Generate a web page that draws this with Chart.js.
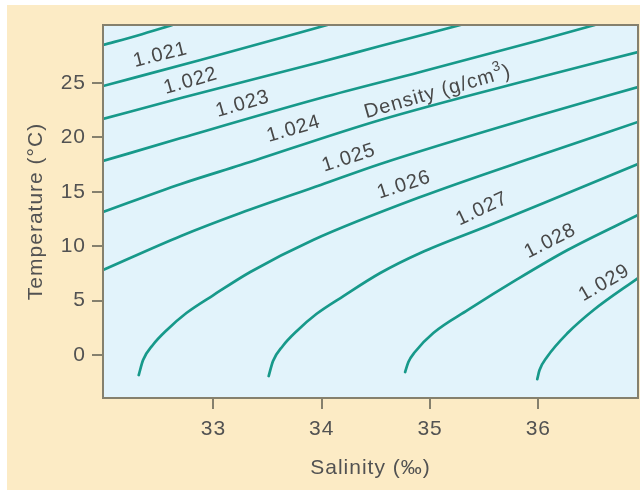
<!DOCTYPE html>
<html>
<head>
<meta charset="utf-8">
<script src="https://cdn.jsdelivr.net/npm/chart.js@4.4.1/dist/chart.umd.min.js"></script>
<style>
  html, body { margin: 0; padding: 0; background: #ffffff; }
  #wrap { position: absolute; left: 7px; top: 5px; width: 633px; height: 485px; background: #fcebc5; }
</style>
</head>
<body>
<div id="wrap"><canvas id="chart" width="633" height="485"></canvas></div>
<script>
// Isopycnals: salinity (‰) vs temperature (°C)
const densityLevels = ['1.020', '1.021', '1.022', '1.023', '1.024', '1.025', '1.026', '1.027', '1.028', '1.029'];

const sal1020 = [31.98, 32.30, 32.62];
const temp1020 = [28.49, 29.37, 30.33];
const sal1021 = [31.98, 32.88, 34.05];
const temp1021 = [24.72, 27.11, 30.33];
const sal1022 = [31.98, 32.70, 33.99, 34.54, 35.28];
const temp1022 = [21.69, 23.62, 26.93, 28.40, 30.33];
const sal1023 = [31.98, 32.70, 33.99, 34.91, 36.02, 36.52];
const temp1023 = [17.83, 19.94, 23.62, 26.01, 28.95, 30.33];
const sal1024 = [31.98, 32.70, 33.25, 34.54, 36.02, 36.92];
const temp1024 = [13.14, 15.72, 17.46, 21.60, 25.55, 27.85];
const sal1025 = [31.98, 32.70, 33.25, 33.99, 34.54, 36.02, 36.92];
const temp1025 = [7.81, 10.94, 13.05, 15.63, 17.56, 22.06, 24.63];
const sal1026 = [32.31, 32.35, 32.44, 32.57, 32.75, 33.00, 33.34, 33.92, 34.91, 36.02, 36.92];
const temp1026 = [-1.84, -0.46, 0.92, 2.30, 3.86, 5.51, 7.63, 10.57, 14.52, 18.38, 21.42];
const sal1027 = [33.51, 33.55, 33.64, 33.77, 33.95, 34.20, 34.54, 34.91, 35.53, 36.05, 36.92];
const temp1027 = [-1.93, -0.55, 0.83, 2.21, 3.77, 5.42, 7.54, 9.38, 11.86, 13.97, 17.56];
const sal1028 = [34.77, 34.80, 34.86, 35.03, 35.35, 35.81, 36.27, 36.92];
const temp1028 = [-1.56, -0.64, 0.28, 2.02, 4.14, 6.99, 9.65, 12.87];
const sal1029 = [35.99, 36.01, 36.08, 36.27, 36.51, 36.92];
const temp1029 = [-2.21, -1.40, -0.18, 2.02, 4.14, 7.08];

const salinityTicks = [33, 34, 35, 36];
const tempTicks = [0, 5, 10, 15, 20, 25];

// in-plot labels (text, anchor in data units, angle in degrees)
const labelText = ['1.021', '1.022', '1.023', '1.024', '1.025', '1.026', '1.027', '1.028', '1.029'];
const labelSal = [32.51, 32.79, 33.27, 33.74, 34.25, 34.76, 35.48, 36.11, 36.61];
const labelTemp = [27.57, 25.18, 23.07, 20.77, 18.11, 15.63, 13.42, 10.48, 6.62];
const labelAngle = [-14, -16, -16, -16, -18, -18, -25, -27, -30];
const unitLabel = { text: 'Density (g/cm', sup: '3', close: ')', sal: 35.07, temp: 24.17, angle: -16 };

const curves = [
    [sal1020, temp1020], [sal1021, temp1021], [sal1022, temp1022], [sal1023, temp1023],
    [sal1024, temp1024], [sal1025, temp1025], [sal1026, temp1026], [sal1027, temp1027],
    [sal1028, temp1028], [sal1029, temp1029]
];

const lineColor = '#17998a';
const plotColor = '#e2f3fb';
const frameColor = '#85806d';
const textColor = '#525252';
const fontFamily = '"Liberation Sans", Arial, sans-serif';

const plotDecor = {
    id: 'plotDecor',
    beforeDraw(chart) {
        const { ctx, chartArea: a } = chart;
        ctx.letterSpacing = '1px';
        ctx.save();
        ctx.fillStyle = plotColor;
        ctx.fillRect(a.left, a.top, a.right - a.left, a.bottom - a.top);
        ctx.restore();
    },
    afterDatasetsDraw(chart) {
        const { ctx, chartArea: a, scales } = chart;
        ctx.save();
        ctx.fillStyle = '#484848';
        ctx.font = '20px ' + fontFamily;
        ctx.letterSpacing = '1px';
        ctx.textAlign = 'center';
        ctx.textBaseline = 'middle';
        labelText.forEach((txt, i) => {
            ctx.save();
            ctx.translate(scales.x.getPixelForValue(labelSal[i]), scales.y.getPixelForValue(labelTemp[i]));
            ctx.rotate(labelAngle[i] * Math.PI / 180);
            ctx.fillText(txt, 0, 0);
            ctx.restore();
        });

        // "Density (g/cm3)" with a raised 3
        ctx.save();
        ctx.translate(scales.x.getPixelForValue(unitLabel.sal), scales.y.getPixelForValue(unitLabel.temp));
        ctx.rotate(unitLabel.angle * Math.PI / 180);
        ctx.textAlign = 'left';
        const w1 = ctx.measureText(unitLabel.text).width;
        const w3 = ctx.measureText(unitLabel.close).width;
        ctx.font = '14px ' + fontFamily;
        const w2 = ctx.measureText(unitLabel.sup).width;
        let px = -(w1 + w2 + w3) / 2;
        ctx.font = '20px ' + fontFamily;
        ctx.fillText(unitLabel.text, px, 0);
        px += w1;
        ctx.font = '14px ' + fontFamily;
        ctx.fillText(unitLabel.sup, px, -8);
        px += w2;
        ctx.font = '20px ' + fontFamily;
        ctx.fillText(unitLabel.close, px, 0);
        ctx.restore();

        // frame around plot area
        ctx.strokeStyle = frameColor;
        ctx.lineWidth = 2;
        ctx.strokeRect(a.left, a.top, a.right - a.left, a.bottom - a.top);
        ctx.restore();
    }
};

const ctx = document.getElementById('chart').getContext('2d');
new Chart(ctx, {
    type: 'scatter',
    data: {
        datasets: curves.map(([s, t], i) => ({
            label: densityLevels[i],
            data: s.map((v, j) => ({ x: v, y: t[j] })),
            showLine: true,
            borderColor: lineColor,
            borderWidth: 2.7,
            borderCapStyle: 'round',
            pointRadius: 0,
            cubicInterpolationMode: 'monotone',
            clip: 0
        }))
    },
    options: {
        responsive: false,
        animation: false,
        layout: { padding: { left: 0, right: 2, top: 20, bottom: 0 } },
        plugins: { legend: { display: false }, tooltip: { enabled: false } },
        scales: {
            x: {
                type: 'linear',
                min: 31.98,
                max: 36.92,
                afterBuildTicks: s => { s.ticks = salinityTicks.map(v => ({ value: v })); },
                afterFit: s => { s.height = 92; },
                grid: { drawOnChartArea: false, drawTicks: true, tickLength: 11, color: frameColor, lineWidth: 2 },
                border: { color: frameColor, width: 2 },
                ticks: { color: textColor, font: { family: fontFamily, size: 21 }, padding: 8, maxRotation: 0 },
                title: { display: true, text: 'Salinity (‰)', color: textColor, font: { family: fontFamily, size: 21 }, padding: { top: 0, bottom: 9 } }
            },
            y: {
                type: 'linear',
                min: -3.95,
                max: 30.33,
                afterBuildTicks: s => { s.ticks = tempTicks.map(v => ({ value: v })); },
                afterFit: s => { s.width = 96; },
                grid: { drawOnChartArea: false, drawTicks: true, tickLength: 11, color: frameColor, lineWidth: 2 },
                border: { color: frameColor, width: 2 },
                ticks: { color: textColor, font: { family: fontFamily, size: 21 }, padding: 6 },
                title: { display: true, text: 'Temperature (°C)', color: textColor, font: { family: fontFamily, size: 21 }, padding: { top: 17, bottom: 0 } }
            }
        }
    },
    plugins: [plotDecor]
});
</script>
</body>
</html>
